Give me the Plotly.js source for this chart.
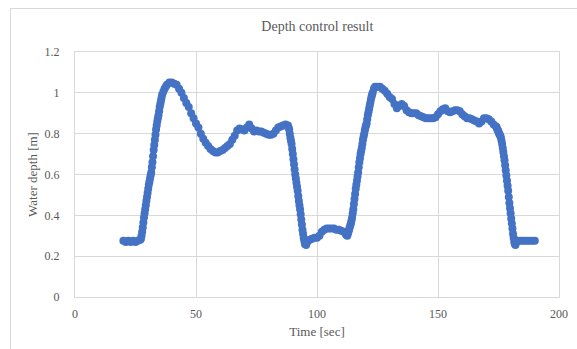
<!DOCTYPE html>
<html>
<head>
<meta charset="utf-8">
<script src="https://cdn.plot.ly/plotly-3.0.1.min.js"></script>
<style>
  html, body { margin: 0; padding: 0; background: #fff; overflow: hidden; }
  #frame { position: absolute; left: 10px; top: 8px; width: 620px; height: 400px; border: 1px solid #d9d9d9; box-sizing: border-box; }
  #chart { position: absolute; left: 0; top: 0; width: 577px; height: 349px; }
</style>
</head>
<body>
<div id="frame"></div>
<div id="chart"></div>
<script>
// Time [sec]
const time = [
  20,21,22,23,24,25,26,27,
  27.25,27.5,27.75,28, 28.25,28.5,28.75,29, 29.25,29.5,29.75,30, 30.25,30.5,30.75,31, 31.25,31.5,31.75,32,
  32.25,32.5,32.75,33, 33.25,33.5,33.75,34, 34.25,34.5,34.75,35, 35.25,35.5,35.75,36,
  36.5,37,37.5,38,
  39,40,41,42,43,44,45,46,47,48,49,50,51,52,53,54,55,56,57,58,59,60,61,62,63,64,65,66,67,68,69,70,
  71,72,73,74,75,76,77,78,79,80,81,82,83,84,85,86,87,88,
  88.25,88.5,88.75,89, 89.25,89.5,89.75,90, 90.25,90.5,90.75,91, 91.25,91.5,91.75,92,
  92.25,92.5,92.75,93, 93.25,93.5,93.75,94, 94.25,94.5,94.75,95, 95.5,
  96,97,98,99,100,101,102,103,104,105,106,107,108,109,110,111,112,
  112.5,112.75,113,113.25, 113.5,113.75,114,114.25, 114.5,114.75,115,115.25, 115.5,115.75,116,116.25,
  116.5,116.75,117,117.25, 117.5,117.75,118,118.25, 118.5,118.75,119,119.25, 119.5,119.75,120,120.25,
  120.5,120.75,121,121.25, 121.5,121.75,122,122.25, 122.5,122.75,123,
  123.5,124,
  125,126,127,128,129,130,131,132,133,134,135,136,137,138,139,140,141,142,143,144,145,146,147,148,149,150,
  151,152,153,154,155,156,157,158,159,160,161,162,163,164,165,166,167,168,169,170,171,172,173,174,
  174.25,174.5,174.75,175, 175.25,175.5,175.75,176, 176.25,176.5,176.75,177, 177.25,177.5,177.75,178,
  178.25,178.5,178.75,179, 179.25,179.5,179.75,180, 180.25,180.5,180.75,181, 181.25,181.5,181.75,182,
  182.5,
  183,184,185,186,187,188,189,190
];
// Water depth [m]
const depth = [
  0.275,0.27,0.275,0.27,0.275,0.27,0.275,0.28,
  0.285,0.30,0.32,0.34, 0.365,0.39,0.41,0.43, 0.45,0.47,0.49,0.51, 0.53,0.55,0.565,0.58, 0.595,0.61,0.635,0.66,
  0.69,0.72,0.745,0.77, 0.795,0.82,0.84,0.86, 0.875,0.89,0.91,0.93, 0.945,0.96,0.975,0.99,
  1.005,1.02,1.03,1.04,
  1.05,1.05,1.045,1.04,1.02,1.0,0.975,0.95,0.93,0.9,0.875,0.85,0.83,0.8,0.775,0.755,0.74,0.725,0.715,0.708,0.708,0.715,0.72,0.73,0.74,0.75,0.77,0.79,0.815,0.825,0.82,0.815,
  0.83,0.845,0.825,0.81,0.815,0.81,0.81,0.805,0.80,0.795,0.795,0.80,0.815,0.83,0.835,0.84,0.845,0.84,
  0.83,0.82,0.80,0.78, 0.765,0.75,0.725,0.70, 0.675,0.65,0.625,0.60, 0.58,0.56,0.54,0.52,
  0.495,0.47,0.45,0.43, 0.405,0.38,0.355,0.33, 0.31,0.29,0.275,0.26, 0.255,
  0.27,0.28,0.285,0.29,0.29,0.30,0.32,0.33,0.335,0.335,0.335,0.335,0.33,0.33,0.325,0.32,0.305,
  0.30,0.31,0.32,0.33, 0.34,0.35,0.36,0.375, 0.39,0.41,0.43,0.455, 0.48,0.505,0.53,0.55,
  0.57,0.59,0.61,0.635, 0.66,0.68,0.70,0.715, 0.73,0.75,0.77,0.785, 0.80,0.815,0.83,0.84,
  0.85,0.87,0.89,0.905, 0.92,0.935,0.95,0.965, 0.98,0.99,1.0,
  1.02,1.03,
  1.03,1.03,1.02,1.01,0.995,0.98,0.97,0.945,0.925,0.935,0.945,0.935,0.915,0.905,0.9,0.9,0.9,0.89,0.885,0.88,0.875,0.875,0.875,0.875,0.88,0.895,
  0.91,0.92,0.925,0.91,0.905,0.91,0.915,0.915,0.91,0.895,0.885,0.875,0.875,0.87,0.865,0.86,0.85,0.86,0.875,0.875,0.87,0.86,0.845,0.835,
  0.83,0.82,0.815,0.81, 0.80,0.795,0.79,0.78, 0.765,0.75,0.73,0.71, 0.69,0.67,0.645,0.62,
  0.595,0.57,0.545,0.52, 0.49,0.46,0.435,0.41, 0.385,0.36,0.335,0.31, 0.29,0.27,0.26,0.255,
  0.27,
  0.275,0.275,0.275,0.275,0.275,0.275,0.275,0.275
];
const xTicks = [0, 50, 100, 150, 200];
const yTicks = [0, 0.2, 0.4, 0.6, 0.8, 1, 1.2];
const yTickLabels = ['0', '0.2', '0.4', '0.6', '0.8', '1', '1.2'];

const font = '"Liberation Serif", "Times New Roman", serif';
const grey = '#595959';

const trace = {
  x: time, y: depth, type: 'scatter', mode: 'markers',
  marker: { color: '#4472c4', size: 8, line: { width: 0 } },
  hoverinfo: 'skip'
};

const layout = {
  width: 577, height: 349,
  margin: { l: 75, r: 18, t: 52, b: 52, pad: 0 },
  paper_bgcolor: 'rgba(0,0,0,0)', plot_bgcolor: 'rgba(0,0,0,0)',
  showlegend: false,
  title: { text: 'Depth control result', font: { family: font, size: 14, color: grey },
           x: 0.55, xref: 'container', xanchor: 'center', y: 0.925, yref: 'container', yanchor: 'middle' },
  xaxis: {
    range: [0, 200], tickvals: xTicks, ticktext: xTicks.map(String),
    showgrid: true, gridcolor: '#d9d9d9', gridwidth: 1,
    zeroline: false, showline: true, mirror: true, linecolor: '#d9d9d9', linewidth: 1,
    ticks: 'outside', ticklen: 6, tickcolor: 'rgba(0,0,0,0)',
    tickfont: { family: font, size: 12, color: grey },
    title: { text: 'Time [sec]', font: { family: font, size: 13, color: grey }, standoff: 6 },
    automargin: false, fixedrange: true
  },
  yaxis: {
    range: [0, 1.2], tickvals: yTicks, ticktext: yTickLabels,
    showgrid: true, gridcolor: '#d9d9d9', gridwidth: 1,
    zeroline: false, showline: true, mirror: true, linecolor: '#d9d9d9', linewidth: 1,
    ticks: 'outside', ticklen: 12, tickcolor: 'rgba(0,0,0,0)',
    tickfont: { family: font, size: 12, color: grey },
    title: { text: 'Water depth [m]', font: { family: font, size: 13, color: grey }, standoff: 4 },
    automargin: false, fixedrange: true
  }
};

Plotly.newPlot('chart', [trace], layout, { staticPlot: true, displayModeBar: false });
</script>
</body>
</html>
